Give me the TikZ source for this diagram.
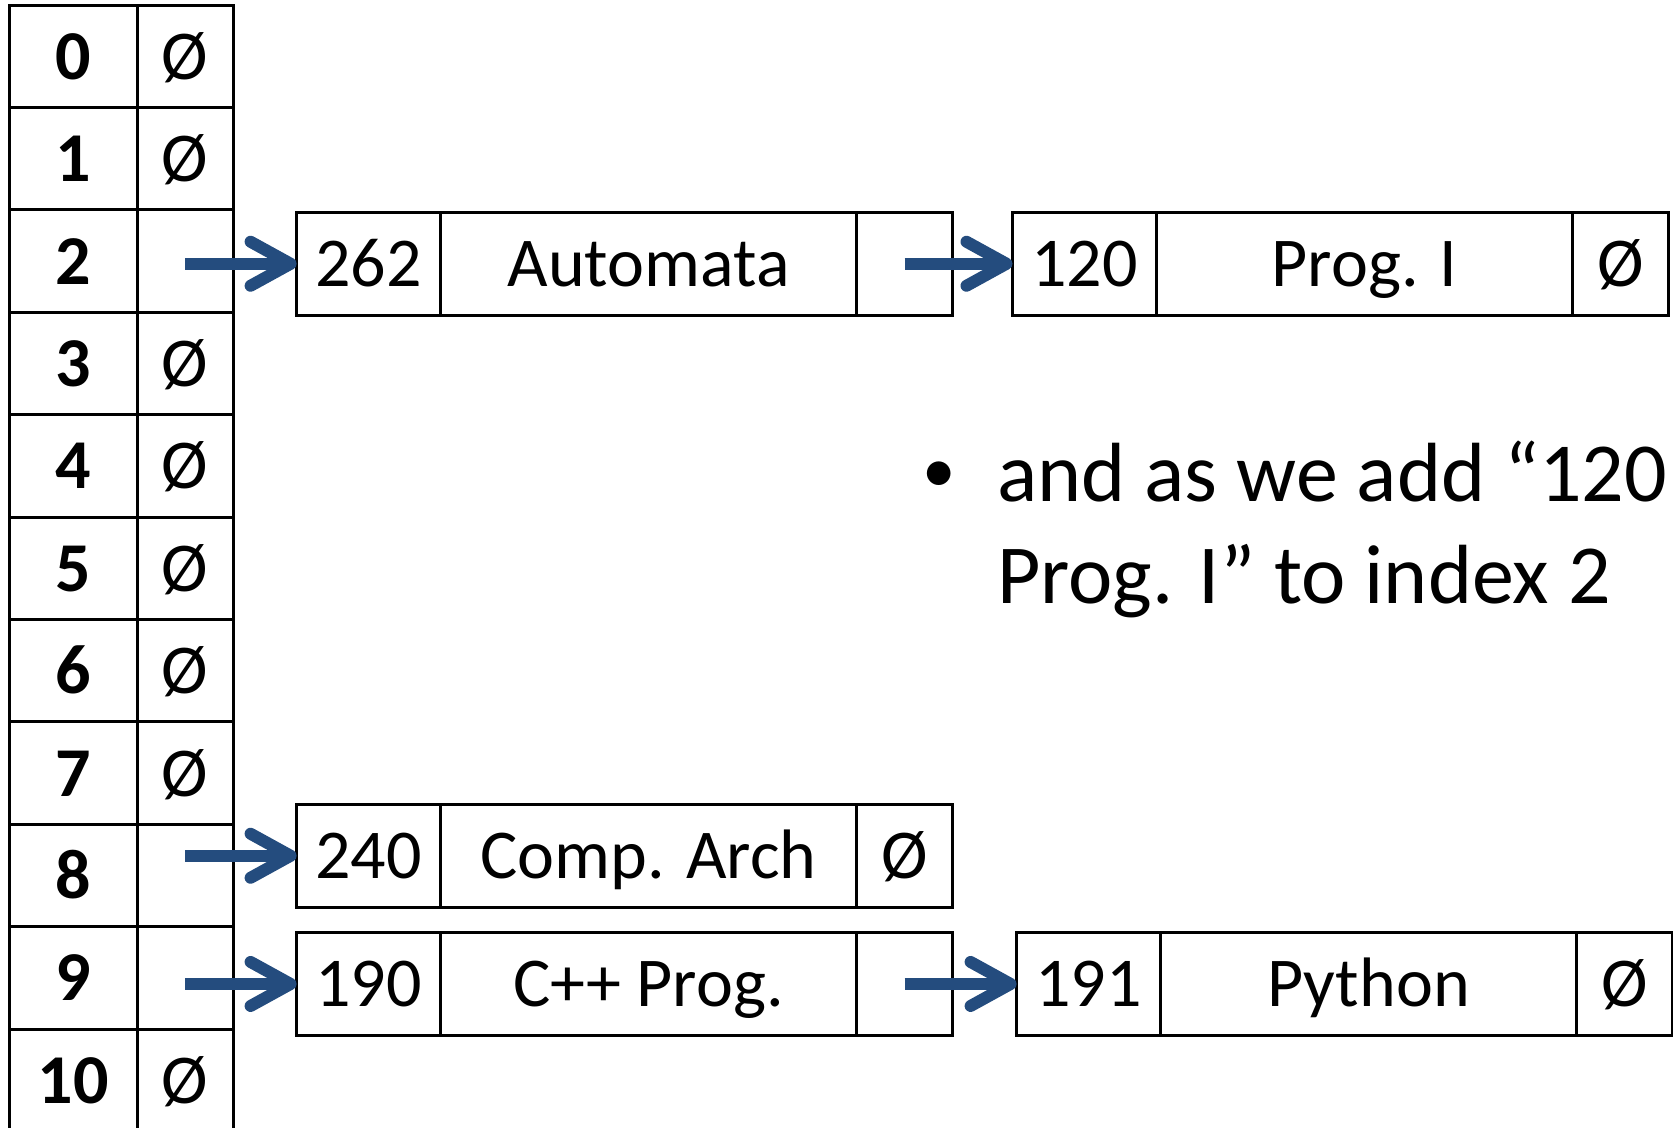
\documentclass[tikz,border=0pt]{standalone}
\usepackage{fontspec}
\setmainfont{Carlito}
\usetikzlibrary{arrows.meta}
\definecolor{ptrblue}{RGB}{36,76,126}
\tikzset{
  x=1pt, y=-1pt,
  cell/.style={draw=black, line width=3pt, inner sep=0pt, outer sep=0pt,
    anchor=north west, text height=46pt, text depth=0pt,
    font=\fontsize{70}{84}\selectfont},
  idx/.style={cell, minimum width=128pt, minimum height=102.4pt, font=\fontsize{70}{84}\selectfont\bfseries},
  val/.style={cell, minimum width=96pt, minimum height=102.4pt},
  keyf/.style={cell, minimum width=144pt, minimum height=102.5pt},
  namef/.style={cell, minimum width=416pt, minimum height=102.5pt},
  nextf/.style={cell, minimum width=96pt, minimum height=102.5pt},
  ptr/.style={draw=ptrblue, line width=12pt,
    -{Straight Barb[length=40pt, width=44pt, round]}},
  bodytext/.style={inner sep=0pt, anchor=base west, font=\fontsize{84}{101}\selectfont}
}
\begin{document}
\begin{tikzpicture}
\useasboundingbox (0,0) rectangle (1673,1127);
\clip (0,0) rectangle (1673,1127);

% hash table: index column and bucket column
\foreach \i/\v in {0/Ø,1/Ø,2/,3/Ø,4/Ø,5/Ø,6/Ø,7/Ø,8/,9/,10/Ø} {
  \node[idx] (i\i) at (9, {5+102.4*\i}) {\i};
  \node[val] (v\i) at (137, {5+102.4*\i}) {\v};
}

% chain at index 2
\node[keyf]  (ak) at (296.6, 212.5) {262};
\node[namef] (an) at (ak.north east) {Automata};
\node[nextf] (ap) at (an.north east) {};

\node[keyf]  (bk) at (1012.5, 212.5) {120};
\node[namef] (bn) at (bk.north east) {Prog. I};
\node[nextf] (bp) at (bn.north east) {Ø};

% chain at index 8
\node[keyf]  (ck) at (296.6, 804.5) {240};
\node[namef] (cn) at (ck.north east) {Comp. Arch};
\node[nextf] (cp) at (cn.north east) {Ø};

% chain at index 9
\node[keyf]  (dk) at (296.6, 932.7) {190};
\node[namef] (dn) at (dk.north east) {C++ Prog.};
\node[nextf] (dp) at (dn.north east) {};

\node[keyf]  (ek) at (1016.6, 932.7) {191};
\node[namef] (en) at (ek.north east) {Python};
\node[nextf] (ep) at (en.north east) {Ø};

% pointers
\draw[ptr] (v2.center |- ak.west) -- (ak.west);
\draw[ptr] (ap.center) -- (bk.west);
\draw[ptr] (v8.center |- ck.west) -- (ck.west);
\draw[ptr] (v9.center |- dk.west) -- (dk.west);
\draw[ptr] (dp.center) -- (ek.west);

% bullet note
\node[inner sep=0pt, anchor=base, font=\fontsize{67}{80}\selectfont] (dot) at (939, 492) {•};
\node[bodytext] (l1) at (997, 501) {and as we add “120};
\node[bodytext] (l2) at (997, 603) {Prog. I” to index 2};
\end{tikzpicture}
\end{document}
